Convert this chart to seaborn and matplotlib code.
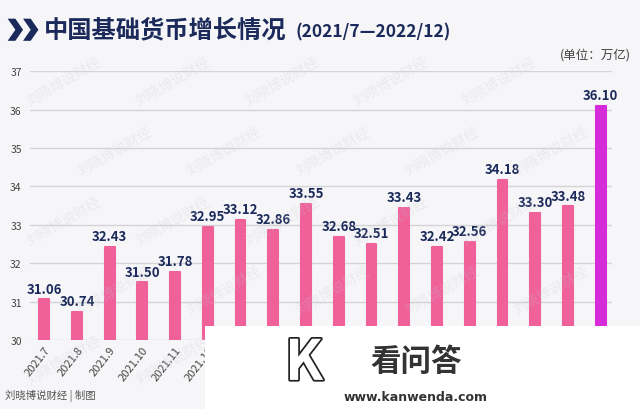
import numpy as np
import seaborn as sns
from matplotlib import pyplot as plt
from matplotlib import patheffects
from matplotlib.patches import Rectangle, Polygon

months = ['2021.7', '2021.8', '2021.9', '2021.10', '2021.11', '2021.12',
          '2022.1', '2022.2', '2022.3', '2022.4', '2022.5', '2022.6',
          '2022.7', '2022.8', '2022.9', '2022.10', '2022.11', '2022.12']
values = [31.06, 30.74, 32.43, 31.50, 31.78, 32.95, 33.12, 32.86, 33.55,
          32.68, 32.51, 33.43, 32.42, 32.56, 34.18, 33.30, 33.48, 36.10]
y_ticks = [30, 31, 32, 33, 34, 35, 36, 37]

pink = '#f0619a'
magenta = '#d62bd8'
navy = '#1b2a5a'
bg = '#f6f6f8'

sns.set_style('white')
plt.rcParams['font.family'] = ['Noto Sans CJK SC', 'DejaVu Sans']

fig = plt.figure(figsize=(6.4, 4.1), dpi=100, facecolor=bg)
ax = fig.add_axes([0.047, 0.168, 0.909, 0.656], facecolor=bg)

colors = [pink] * (len(values) - 1) + [magenta]
sns.barplot(x=months, y=values, hue=months, palette=colors, legend=False,
            width=0.3, saturation=1, ax=ax, zorder=3)
for bar, c in zip(ax.patches, colors):
    bar.set_edgecolor(c)
    bar.set_linewidth(1.5)
    bar.set_joinstyle('round')

ax.set_ylim(30, 37)
ax.set_xlim(-0.43, 17.34)
ax.set_yticks(y_ticks)
ax.yaxis.grid(True, color='#d4d4d8', linewidth=1)
ax.set_axisbelow(True)
sns.despine(ax=ax, left=True, bottom=True)
ax.tick_params(axis='y', length=0, labelsize=7.5, labelcolor='#444444', pad=6)
ax.tick_params(axis='x', length=0, labelsize=8, labelcolor='#444444', pad=3)
for lab in ax.get_xticklabels():
    lab.set_rotation(52)
    lab.set_ha('right')
    lab.set_rotation_mode('anchor')
ax.set_xlabel('')
ax.set_ylabel('')

for i, v in enumerate(values):
    ax.text(i, v + 0.1, f'{v:.2f}', ha='center', va='bottom',
            fontsize=9.5, fontweight='bold', color=navy, zorder=4)

# faint watermark
for row, yy in enumerate(np.arange(0.12, 0.95, 0.17)):
    off = 0.08 if row % 2 else 0.0
    for xx in np.arange(0.1, 0.86, 0.17):
        fig.text(xx + off, yy, '刘晓博说财经', rotation=30, fontsize=10,
                 color='#c8c8d0', alpha=0.25, ha='center', va='center', zorder=0)

# title chevrons
for x0 in (0.012, 0.036):
    w, d = 0.012, 0.012
    top, mid, bot = 0.952, 0.925, 0.898
    fig.patches.append(Polygon([(x0, top), (x0 + w, top), (x0 + w + d, mid),
                                (x0 + w, bot), (x0, bot), (x0 + d, mid)],
                               closed=True, transform=fig.transFigure,
                               facecolor=navy, edgecolor='none'))
fig.text(0.068, 0.925, '中国基础货币增长情况', fontsize=17.5, fontweight='bold',
         color=navy, va='center')
fig.text(0.462, 0.922, '(2021/7—2022/12)', fontsize=12.5, fontweight='bold',
         color=navy, va='center')
fig.text(0.985, 0.866, '(单位：万亿)', fontsize=9, color='#444444',
         ha='right', va='center')
fig.text(0.008, 0.035, '刘晓博说财经 | 制图', fontsize=7.5, color='#555555',
         va='center')

# site overlay
fig.patches.append(Rectangle((0.32, 0.0), 0.68, 0.202, transform=fig.transFigure,
                             facecolor='white', edgecolor='none', zorder=5))
fig.text(0.475, 0.11, 'K', fontsize=40, color='white', fontweight='bold',
         ha='center', va='center', zorder=6,
         path_effects=[patheffects.withStroke(linewidth=2.5, foreground='#222222')])
fig.text(0.65, 0.118, '看问答', fontsize=22, fontweight='bold', color='#333333',
         ha='center', va='center', zorder=6)
fig.text(0.65, 0.03, 'www.kanwenda.com', fontsize=9, fontweight='bold',
         color='#333333', ha='center', va='center', zorder=6,
         family=['DejaVu Sans'])

fig.savefig('out.png', dpi=100, facecolor=bg)
